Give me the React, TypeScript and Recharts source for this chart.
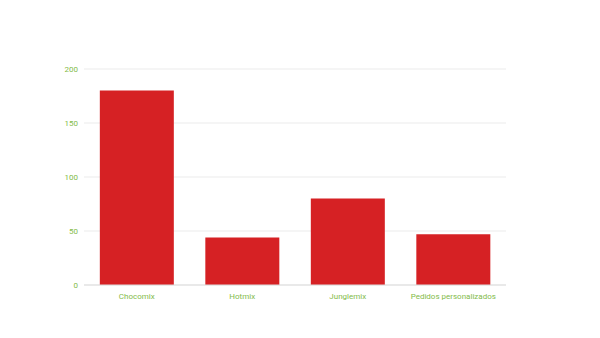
import { BarChart, Bar, XAxis, YAxis, CartesianGrid } from "recharts";

const categories = ["Chocomix", "Hotmix", "Junglemix", "Pedidos personalizados"];
const values = [180, 44, 80, 47];
const yTicks = [0, 50, 100, 150, 200];

const data = categories.map((name, i) => ({ name, value: values[i] }));

const labelColor = "#83bb4a";

export default function App() {
  return (
    <div style={{ position: "absolute", left: 0, top: 0, width: 600, height: 338, background: "#fff" }}>
      <BarChart
        width={600}
        height={338}
        data={data}
        margin={{ top: 69, right: 94, bottom: 23, left: 0 }}
        barCategoryGap="15%"
      >
        <CartesianGrid stroke="#ebebeb" vertical={false} />
        <XAxis
          dataKey="name"
          height={30}
          axisLine={{ stroke: "#dddddd" }}
          tickLine={false}
          tick={{ fill: labelColor, fontSize: 8, fontFamily: "Roboto" }}
          tickMargin={2}
          interval={0}
        />
        <YAxis
          width={84}
          domain={[0, 200]}
          ticks={yTicks}
          axisLine={false}
          tickLine={false}
          tickSize={4}
          tick={{ fill: labelColor, fontSize: 8, fontFamily: "Roboto" }}
        />
        <Bar dataKey="value" fill="#d62124" isAnimationActive={false} />
      </BarChart>
    </div>
  );
}
